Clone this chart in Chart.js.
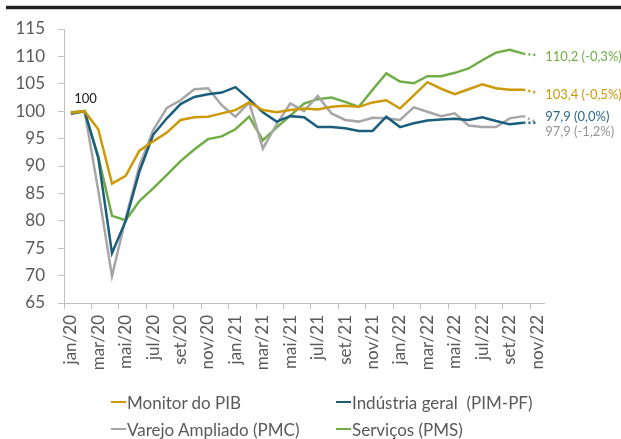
<!DOCTYPE html>
<html>
<head>
<meta charset="utf-8">
<script src="https://cdn.jsdelivr.net/npm/chart.js@4.4.0/dist/chart.umd.min.js"></script>
<style>
  body { margin: 0; background: #fff; }
  #wrap { position: relative; width: 621px; height: 439px; }
  #topbar { position: absolute; left: 6px; top: 5px; width: 615px; height: 3px; background: #231f20; border-top: 1px solid #cfcfcf; border-bottom: 1px solid #cfcfcf; }
  .leg { position: absolute; font: 17px Lato, sans-serif; color: #595959; white-space: pre; display: flex; align-items: center; }
  .leg span.mk { display: inline-block; width: 15px; height: 2.5px; margin-right: 1px; }
</style>
</head>
<body>
<div id="wrap">
  <div id="topbar"></div>
  <canvas id="chart" width="621" height="439"></canvas>
</div>
<script>
var months = ["jan/20","fev/20","mar/20","abr/20","mai/20","jun/20","jul/20","ago/20","set/20","out/20","nov/20","dez/20",
  "jan/21","fev/21","mar/21","abr/21","mai/21","jun/21","jul/21","ago/21","set/21","out/21","nov/21","dez/21",
  "jan/22","fev/22","mar/22","abr/22","mai/22","jun/22","jul/22","ago/22","set/22","out/22","nov/22"];

var monitorPib = [99.7,100,96.7,86.8,88.2,92.8,94.5,96.1,98.4,98.9,99.0,99.6,
  100.2,101.6,100.2,99.8,100.2,100.5,100.3,100.8,101.0,100.8,101.6,102.0,
  100.5,102.9,105.3,104.1,103.1,104.0,104.9,104.2,103.9,103.9,103.4];
var industria = [99.6,100,91.5,74.1,80.0,89.0,95.7,98.7,101.3,102.6,103.1,103.4,
  104.4,102.2,99.8,98.1,99.1,98.9,97.1,97.1,96.9,96.4,96.4,99.0,
  97.1,97.8,98.3,98.5,98.6,98.4,98.9,98.2,97.6,97.9,97.9];
var varejo = [99.5,100,85.5,69.9,80.5,90.0,96.5,100.6,102.0,104.0,104.2,101.1,
  99.0,101.6,93.2,97.6,101.4,100.0,102.8,99.6,98.4,98.1,98.8,98.7,
  98.4,100.7,99.9,99.1,99.6,97.4,97.1,97.1,98.7,99.1,97.9];
var servicos = [99.8,100,91.7,80.9,80.1,83.6,85.9,88.4,90.9,93.0,94.9,95.4,
  96.7,99.0,94.7,97.0,99.2,101.4,102.2,102.5,101.7,100.8,103.9,106.9,
  105.4,105.1,106.4,106.4,107.0,107.8,109.3,110.7,111.2,110.5,110.2];

var seriesNames = ["Monitor do PIB", "Indústria geral  (PIM-PF)", "Varejo Ampliado (PMC)", "Serviços (PMS)"];
var seriesColors = ["#cc9a06", "#1b5e7b", "#a6a6a6", "#70ad47"];
var endLabelColors = ["#cc9a06", "#2a6b8a", "#959595", "#70ad47"];
var endLabelShift = [2, -6, 9, 2];
var baseIndex = 1;
var last = months.length - 1;

function endText(d) {
  var v = d[last], pct = (d[last] / d[last - 1] - 1) * 100;
  return v.toFixed(1).replace(".", ",") + " (" + pct.toFixed(1).replace(".", ",").replace("-0,0", "0,0") + "%)";
}

var labelPlugin = {
  id: "endLabels",
  afterDatasetsDraw: function (chart) {
    var ctx = chart.ctx;
    ctx.save();
    ctx.font = "13px Lato, sans-serif";
    ctx.textBaseline = "middle";
    chart.data.datasets.forEach(function (ds, i) {
      var pt = chart.getDatasetMeta(i).data[last];
      ctx.fillStyle = endLabelColors[i];
      ctx.textAlign = "left";
      ctx.fillText(endText(ds.data), pt.x + 8, pt.y + endLabelShift[i]);
    });
    var p = chart.getDatasetMeta(0).data[baseIndex];
    ctx.fillStyle = "#1a1a1a";
    ctx.textAlign = "center";
    ctx.fillText("100", p.x + 1, p.y - 12);
    ctx.restore();
  }
};

var allData = [monitorPib, industria, varejo, servicos];
var datasets = allData.map(function (d, i) {
  return {
    label: seriesNames[i],
    data: d,
    borderColor: seriesColors[i],
    backgroundColor: seriesColors[i],
    borderWidth: 2.5,
    pointRadius: 0,
    tension: 0,
    segment: {
      borderDash: function (c) { return c.p1DataIndex === last ? [2, 3] : undefined; }
    }
  };
});

var axisColor = "#bfbfbf";
var ctx = document.getElementById("chart");
var myChart = new Chart(ctx, {
  type: "line",
  data: { labels: months, datasets: datasets },
  plugins: [labelPlugin],
  options: {
    responsive: false,
    animation: false,
    layout: { padding: { left: 0, top: 29, right: 77, bottom: 70 } },
    plugins: { legend: { display: false }, tooltip: { enabled: false } },
    scales: {
      x: {
        offset: true,
        afterFit: function (s) { s.height = 66; },
        grid: {
          offset: true,
          drawOnChartArea: false,
          tickLength: 6,
          tickColor: function (c) { return c.index % 2 === 0 ? axisColor : "rgba(0,0,0,0)"; }
        },
        border: { color: axisColor },
        ticks: {
          autoSkip: false,
          maxRotation: 90,
          minRotation: 90,
          padding: 6,
          color: "#595959",
          font: { family: "Lato", size: 17 },
          callback: function (v, i) { return i % 2 === 0 ? months[i] : ""; }
        }
      },
      y: {
        min: 65,
        max: 115,
        afterFit: function (s) { s.width = 64; },
        grid: { drawOnChartArea: false, tickLength: 6, tickColor: axisColor },
        border: { color: axisColor },
        ticks: { stepSize: 5, padding: 13, color: "#595959", font: { family: "Lato", size: 17 } }
      }
    }
  }
});

// legend in two columns below the chart
var legPos = [[111, 402], [336, 402], [111, 429], [336, 429]];
var wrap = document.getElementById("wrap");
myChart.data.datasets.forEach(function (ds, i) {
  var el = document.createElement("div");
  el.className = "leg";
  el.style.left = legPos[i][0] + "px";
  el.style.top = (legPos[i][1] - 11) + "px";
  el.style.height = "22px";
  el.innerHTML = '<span class="mk" style="background:' + ds.borderColor + '"></span>' + ds.label;
  wrap.appendChild(el);
});
</script>
</body>
</html>
